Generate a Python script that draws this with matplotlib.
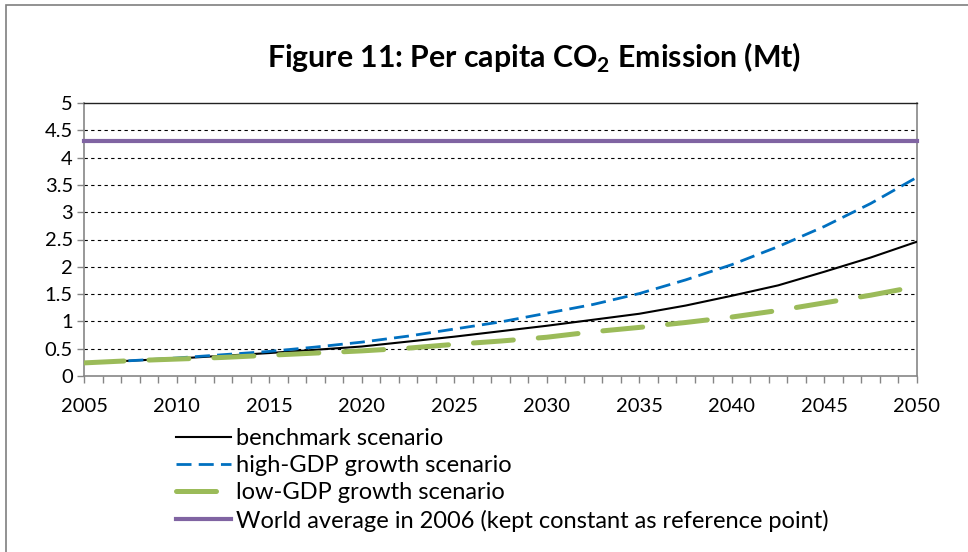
import matplotlib
matplotlib.use("Agg")
import matplotlib.pyplot as plt
from matplotlib.patches import Rectangle
from matplotlib.ticker import MultipleLocator

plt.rcParams["font.family"] = ["Lato", "DejaVu Sans"]
plt.rcParams["mathtext.fontset"] = "custom"
plt.rcParams["mathtext.rm"] = "Lato"
plt.rcParams["mathtext.bf"] = "Lato:bold"

# Per capita CO2 emission projections (Mt)
years = [2005, 2007.5, 2010, 2012.5, 2015, 2017.5, 2020, 2022.5, 2025, 2027.5,
         2030, 2032.5, 2035, 2037.5, 2040, 2042.5, 2045, 2047.5, 2050]
benchmark = [0.24, 0.28, 0.32, 0.37, 0.42, 0.48, 0.54, 0.63, 0.72, 0.82,
             0.92, 1.03, 1.14, 1.29, 1.47, 1.66, 1.91, 2.17, 2.46]
high_gdp = [0.24, 0.28, 0.33, 0.39, 0.45, 0.53, 0.62, 0.73, 0.86, 0.99,
            1.15, 1.31, 1.51, 1.76, 2.04, 2.37, 2.74, 3.16, 3.64]
low_gdp = [0.24, 0.28, 0.31, 0.34, 0.38, 0.42, 0.46, 0.51, 0.58, 0.64,
           0.71, 0.81, 0.89, 0.98, 1.08, 1.20, 1.34, 1.48, 1.64]
world_2006 = 4.3

y_ticks = [0, 0.5, 1, 1.5, 2, 2.5, 3, 3.5, 4, 4.5, 5]
y_tick_labels = ["0", "0.5", "1", "1.5", "2", "2.5", "3", "3.5", "4", "4.5", "5"]

labels = ["benchmark scenario",
          "high-GDP growth scenario",
          "low-GDP growth scenario",
          "World average in 2006 (kept constant as reference point)"]

fig = plt.figure(figsize=(9.68, 5.52), dpi=100)
ax = fig.add_axes([84 / 968, 1 - 376 / 552, (917 - 84) / 968, (376 - 103) / 552])

l1, = ax.plot(years, benchmark, color="black", lw=1.5, zorder=3)
l2, = ax.plot(years, high_gdp, color="#0070C0", lw=2.0, dashes=(5.4, 2.6), zorder=4)
l3, = ax.plot(years, low_gdp, color="#9BBB59", lw=3.6, dashes=(8, 5),
              dash_capstyle="round", zorder=5)
l4, = ax.plot([years[0], years[-1]], [world_2006, world_2006], color="#8064A2",
              lw=3.0, solid_capstyle="projecting", clip_on=False, zorder=6)

ax.set_xlim(2005, 2050)
ax.set_ylim(0, 5)
ax.xaxis.set_major_locator(MultipleLocator(5))
ax.xaxis.set_minor_locator(MultipleLocator(1))
ax.set_yticks(y_ticks)
ax.set_yticklabels(y_tick_labels)

ax.tick_params(axis="both", which="both", direction="out", length=5,
               color="#868686", width=1, labelsize=14.5, labelcolor="black")
ax.tick_params(axis="x", which="major", pad=11)
ax.tick_params(axis="y", which="major", pad=3)

for y in y_ticks[1:-1]:
    ax.axhline(y, color="black", lw=0.8, dashes=(3, 3), zorder=1)

for side in ("left", "bottom"):
    ax.spines[side].set_color("#868686")
    ax.spines[side].set_linewidth(1.2)
ax.spines["top"].set_color("#222222")
ax.spines["top"].set_linewidth(1.0)
ax.spines["right"].set_color("#868686")
ax.spines["right"].set_linewidth(1.2)

fig.text(534 / 968, 1 - 58 / 552, r"Figure 11: Per capita CO$_\mathbf{2}$ Emission (Mt)",
         ha="center", va="center", fontsize=21.8, fontweight="bold")

fig.legend([l1, l2, l3, l4], labels, loc="upper left",
           bbox_to_anchor=(176 / 968, 1 - 428 / 552), frameon=False,
           fontsize=17, handlelength=2.35, handletextpad=0.2,
           labelspacing=0.26, borderpad=0, borderaxespad=0)

# outer frame around the whole chart
fig.patches.append(Rectangle((6 / 968, -0.05), 1.05, 1 - 5 / 552 + 0.05,
                             transform=fig.transFigure, fill=False,
                             edgecolor="#7f7f7f", lw=1.2, clip_on=False))

fig.savefig("out.png", dpi=100)
